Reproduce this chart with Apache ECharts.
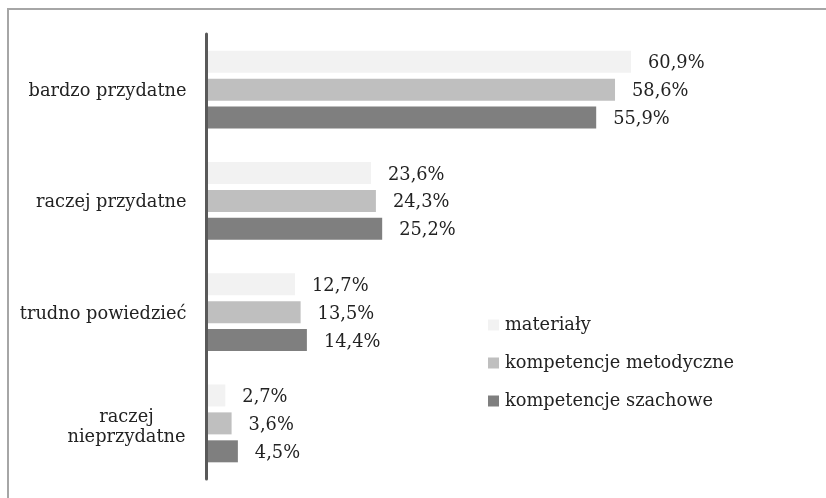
<!DOCTYPE html>
<html>
<head>
<meta charset="utf-8">
<script src="https://cdn.jsdelivr.net/npm/echarts@6/dist/echarts.min.js"></script>
<style>html,body{margin:0;padding:0;background:#fff;}#c{width:826px;height:498px;}</style>
</head>
<body>
<div id="c"></div>
<script>
var categories = ['bardzo przydatne', 'raczej przydatne', 'trudno powiedzieć', 'raczej\nnieprzydatne'];
var seriesNames = ['materiały', 'kompetencje metodyczne', 'kompetencje szachowe'];
var materialy = [60.9, 23.6, 12.7, 2.7];
var metodyczne = [58.6, 24.3, 13.5, 3.6];
var szachowe = [55.9, 25.2, 14.4, 4.5];
var colors = ['#f2f2f2', '#bfbfbf', '#7f7f7f'];

var FONT = 'DejaVu Serif';
var FS = 17.8;
var chart = echarts.init(document.getElementById('c'), null, {renderer: 'canvas'});

function catFormatter(v) {
  if (v.indexOf('\n') >= 0) {
    var parts = v.split('\n');
    return '{s| }\n' + parts.map(function (s) { return '{w|' + s + '}'; }).join('\n');
  }
  return v;
}

function mkSeries(name, data, color) {
  return {
    name: name,
    type: 'bar',
    data: data,
    barWidth: 22,
    barGap: '27%',
    itemStyle: {color: color},
    label: {
      show: true,
      position: 'right',
      distance: 17,
      offset: [0, 2],
      fontFamily: FONT,
      fontSize: FS,
      color: '#222',
      formatter: function (p) { return p.value.toFixed(1).replace('.', ',') + '%'; }
    }
  };
}

chart.setOption({
  animation: false,
  color: colors,
  graphic: [
    {type: 'line', shape: {x1: 8, y1: 9, x2: 826, y2: 9}, style: {stroke: '#a6a6a6', lineWidth: 2}},
    {type: 'line', shape: {x1: 8, y1: 8, x2: 8, y2: 498}, style: {stroke: '#a6a6a6', lineWidth: 2}}
  ],
  grid: {left: 206.5, top: 34, bottom: 19, right: 131.5, containLabel: false},
  xAxis: {
    type: 'value', min: 0, max: 70, show: false
  },
  yAxis: {
    type: 'category',
    data: categories,
    inverse: true,
    z: 3,
    axisLine: {show: true, lineStyle: {color: '#595959', width: 3}},
    axisTick: {show: false},
    axisLabel: {
      margin: 20,
      fontFamily: FONT,
      fontSize: FS,
      color: '#222',
      lineHeight: 20,
      padding: [4, 0, 0, 0],
      formatter: catFormatter,
      rich: {
        w: {width: 120, align: 'center', fontFamily: FONT, fontSize: FS, color: '#222', lineHeight: 20},
        s: {fontSize: 4, lineHeight: 4}
      }
    },
    splitLine: {show: false}
  },
  legend: {
    orient: 'vertical',
    left: 483,
    top: 310,
    itemWidth: 11,
    itemHeight: 11,
    itemGap: 18,
    icon: 'rect',
    textStyle: {fontFamily: FONT, fontSize: FS, color: '#222', lineHeight: 20, padding: [0, 0, 0, 1]},
    data: seriesNames
  },
  series: [
    mkSeries(seriesNames[0], materialy, colors[0]),
    mkSeries(seriesNames[1], metodyczne, colors[1]),
    mkSeries(seriesNames[2], szachowe, colors[2])
  ]
});
</script>
</body>
</html>
